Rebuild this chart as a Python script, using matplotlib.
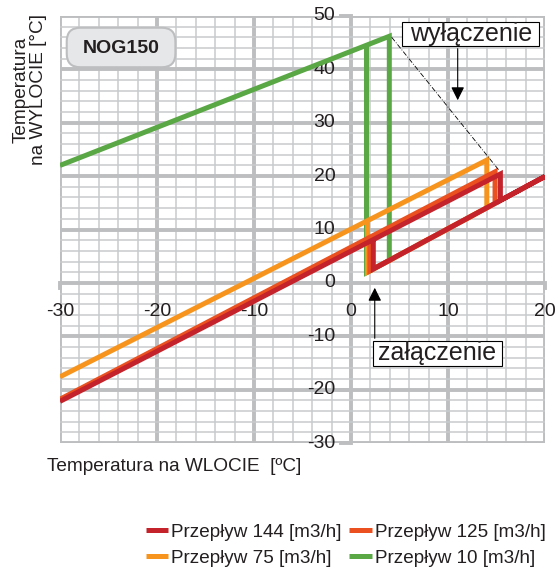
import matplotlib.pyplot as plt
from matplotlib.ticker import MultipleLocator
from matplotlib.patches import FancyBboxPatch, Rectangle

plt.rcParams['font.family'] = ['Liberation Sans', 'DejaVu Sans']

# dane (temperatura na wlocie / wylocie)
labels = ['Przepływ 144 [m3/h]', 'Przepływ 125 [m3/h]', 'Przepływ 75 [m3/h]', 'Przepływ 10 [m3/h]']
colors = ['#c4232b', '#ea5020', '#f7941d', '#5aa745']

x_144 = [-30, 15.4, 15.4, 20, 2.3, 2.3]
y_144 = [-22.2, 20.4, 15.44, 19.95, 2.6, 8.2]
x_125 = [-30, 14.85, 14.85, 1.95, 1.95]
y_125 = [-21.8, 20.8, 14.9, 2.26, 8.6]
x_75 = [-30, 14.0, 14.0, 1.7, 1.7]
y_75 = [-17.6, 23.0, 14.07, 2.02, 11.65]
x_10 = [-30, 3.95, 3.95, 1.6, 1.6]
y_10 = [22.0, 46.2, 4.2, 1.92, 44.6]

x_ticks = [-30, -20, -10, 0, 10, 20]
y_ticks = [-30, -20, -10, 0, 10, 20, 30, 40, 50]

fig = plt.figure(figsize=(5.55, 5.69), dpi=100)
ax = fig.add_axes([0.108, 0.2214, 0.874, 0.7505])
ax.set_xlim(-30, 20)
ax.set_ylim(-30, 50)

ax.xaxis.set_major_locator(MultipleLocator(10))
ax.xaxis.set_minor_locator(MultipleLocator(2))
ax.yaxis.set_major_locator(MultipleLocator(10))
ax.yaxis.set_minor_locator(MultipleLocator(2))
ax.grid(which='major', color='#bcbec0', lw=2.8, zorder=0)
ax.grid(which='minor', color='#c9cacc', lw=1.1, zorder=0)
ax.tick_params(which='both', length=0, labelbottom=False, labelleft=False)
ax.set_axisbelow(True)
for s in ax.spines.values():
    s.set_visible(False)

# etykiety osi przy liniach zera
for v in x_ticks:
    ax.text(v, -5.3, str(v), ha='center', va='center', fontsize=14, color='#231f20')
    ax.plot([v, v], [0, -1.0], color='#bcbec0', lw=2.8, zorder=1, clip_on=False)
for v in y_ticks:
    ax.text(-1.6, v, str(v), ha='right', va='center', fontsize=14, color='#231f20')
    ax.plot([-1.0, 0], [v, v], color='#bcbec0', lw=2.8, zorder=1, clip_on=False)

# linie przeplywow
series = [(x_144, y_144), (x_125, y_125), (x_75, y_75), (x_10, y_10)]
handles = [None] * 4
for i in [3, 2, 1, 0]:
    xs, ys = series[i]
    h, = ax.plot(xs, ys, color=colors[i], lw=3.6, solid_joinstyle='miter',
                 solid_capstyle='butt', zorder=3, label=labels[i])
    handles[i] = h

ax.plot([4.2, 15.3], [46.0, 21.0], color='black', lw=0.6, ls=(0, (6, 2, 1, 2)), zorder=4)

# NOG150
ax.add_patch(FancyBboxPatch((-29.3, 40.4), 11.2, 7.4,
                            boxstyle='round,pad=0,rounding_size=1.4', mutation_aspect=1.82,
                            fc='#e6e7e8', ec='#bcbec0', lw=1.5, zorder=5))
ax.text(-23.7, 44.0, 'NOG150', ha='center', va='center', fontsize=14, fontweight='bold',
        color='#231f20', zorder=6)

# wyłączenie
ax.add_patch(Rectangle((5.3, 44.4), 14.1, 4.5, fc='white', ec='black', lw=0.8, zorder=5))
ax.text(12.35, 46.7, 'wyłączenie', ha='center', va='center', fontsize=18, color='#231f20', zorder=6)
ax.annotate('', xy=(11.0, 33.7), xytext=(11.0, 44.4),
            arrowprops=dict(arrowstyle='-|>', color='black', lw=0.8, mutation_scale=20), zorder=6)

# załączenie
ax.add_patch(Rectangle((2.27, -15.5), 13.3, 4.6, fc='white', ec='black', lw=0.8, zorder=5))
ax.text(8.9, -13.1, 'załączenie', ha='center', va='center', fontsize=18, color='#231f20', zorder=6)
ax.annotate('', xy=(2.45, -0.4), xytext=(2.45, -10.9),
            arrowprops=dict(arrowstyle='-|>', color='black', lw=0.8, mutation_scale=20), zorder=6)

fig.text(0.054, 0.842, 'Temperatura\nna WYLOCIE [°C]', rotation=90, ha='center', va='center',
         fontsize=13.7, color='#231f20', linespacing=1.05)
fig.text(0.085, 0.181, 'Temperatura na WLOCIE  [ºC]', ha='left', va='center',
         fontsize=13.7, color='#231f20')

order = [handles[0], handles[2], handles[1], handles[3]]
fig.legend(order, [h.get_label() for h in order], loc='center', bbox_to_anchor=(0.623, 0.042),
           ncol=2, frameon=False, fontsize=13.6, handlelength=1.2, handletextpad=0.15,
           columnspacing=0.4, labelspacing=0.45, labelcolor='#231f20',
           borderpad=0.1)

fig.savefig('out.png', dpi=100)
